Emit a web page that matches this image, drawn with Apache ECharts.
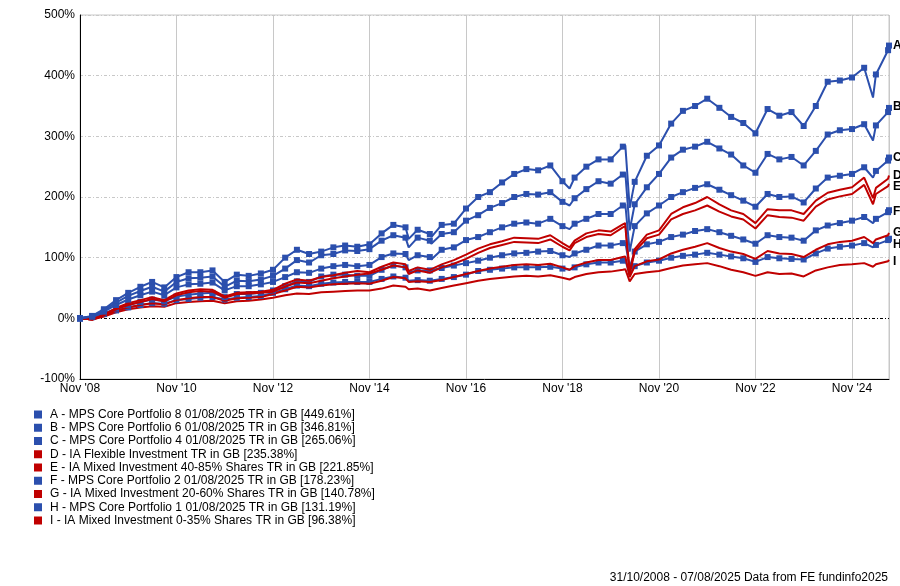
<!DOCTYPE html>
<html><head><meta charset="utf-8">
<script src="https://cdn.jsdelivr.net/npm/echarts@6/dist/echarts.min.js"></script>
<style>html,body{margin:0;padding:0;background:#fff}#c{width:900px;height:586px}</style>
</head><body><div id="c"></div><script>
// ---------- DATA ----------
const startDate = '2008-10-31';
const endDate = '2025-08-07';
const dates = [
 '2008-10-31','2009-01-31','2009-04-30','2009-07-31','2009-10-31','2010-01-31','2010-04-30','2010-07-31',
 '2010-10-31','2011-01-31','2011-04-30','2011-07-31','2011-10-31','2012-01-31','2012-04-30','2012-07-31',
 '2012-10-31','2013-01-31','2013-04-30','2013-07-31','2013-10-31','2014-01-31','2014-04-30','2014-07-31',
 '2014-10-31','2015-01-31','2015-04-30','2015-07-31','2015-08-24','2015-10-31','2016-01-31','2016-02-11',
 '2016-04-30','2016-07-31','2016-10-31','2017-01-31','2017-04-30','2017-07-31','2017-10-31','2018-01-31',
 '2018-04-30','2018-07-31','2018-10-31','2018-12-24','2019-01-31','2019-04-30','2019-07-31','2019-10-31',
 '2020-01-31','2020-02-19','2020-03-23','2020-04-30','2020-07-31','2020-10-31','2021-01-31','2021-04-30',
 '2021-07-31','2021-10-31','2022-01-31','2022-04-30','2022-07-31','2022-10-31','2023-01-31','2023-04-30',
 '2023-07-31','2023-10-31','2024-01-31','2024-04-30','2024-07-31','2024-10-31','2025-01-31','2025-04-08',
 '2025-04-30','2025-07-31','2025-08-07'
];
const unmarkedDates = ['2015-08-24','2016-02-11','2018-12-24','2020-02-19','2020-03-23','2025-04-08'];
const xTickLabels = ["Nov '08","Nov '10","Nov '12","Nov '14","Nov '16","Nov '18","Nov '20","Nov '22","Nov '24"];
const seriesNames = [
 'A - MPS Core Portfolio 8 01/08/2025 TR in GB [449.61%]',
 'B - MPS Core Portfolio 6 01/08/2025 TR in GB [346.81%]',
 'C - MPS Core Portfolio 4 01/08/2025 TR in GB [265.06%]',
 'D - IA Flexible Investment TR in GB [235.38%]',
 'E - IA Mixed Investment 40-85% Shares TR in GB [221.85%]',
 'F - MPS Core Portfolio 2 01/08/2025 TR in GB [178.23%]',
 'G - IA Mixed Investment 20-60% Shares TR in GB [140.78%]',
 'H - MPS Core Portfolio 1 01/08/2025 TR in GB [131.19%]',
 'I - IA Mixed Investment 0-35% Shares TR in GB [96.38%]'
];
const seriesLetters = ['A','B','C','D','E','F','G','H','I'];
const footerText = '31/10/2008 - 07/08/2025 Data from FE fundinfo2025';

const valuesA = [0,4,15,30,42,52,60,51,68,76,76,79,60,72,70,74,
 80,100,113,106,110,117,120,118,122,140,154,150,131,146,139,134,154,156,181,
 200,208,224,238,246,244,252,226,214,232,250,262,262,283,285,182,225,268,285,321,
 342,350,362,347,332,322,305,345,334,340,317,350,390,392,397,413,364,402,442,449.61];
const valuesB = [0,3,13,26,37,45,52,44,60,66,67,69,52,62,61,64,
 70,82,96,92,104,106,112,111,114,128,137,133,117,133,128,123,139,142,161,
 170,182,190,200,205,204,208,192,186,198,213,226,222,237,240,145,188,216,238,265,
 278,283,291,280,270,252,240,271,262,266,252,276,303,310,312,320,293,318,340,346.81];
const valuesC = [0,3,11,22,31,38,44,38,51,56,57,59,46,53,53,56,
 60,68,76,75,82,86,88,86,88,101,107,106,96,104,101,97,113,117,129,
 134,142,150,156,158,156,164,152,147,156,164,172,172,186,188,110,152,173,186,200,
 208,215,221,212,203,194,184,205,200,201,191,214,232,235,238,249,232,243,260,265.06];
const valuesD = [0,-2,6,17,25,30,35,30,41,46,48,47,36,42,43,44,
 47,57,64,62,68,71,75,78,76,85,92,89,78,84,80,77,89,96,105,
 115,122,127,133,132,131,137,124,117,128,140,145,143,155,157,76,114,138,145,172,
 183,190,200,188,178,172,157,180,178,178,172,194,207,212,216,232,198,215,230,235.38];
const valuesE = [0,-2,5,15,22,27,32,28,38,43,45,44,34,40,41,42,
 44,52,59,58,62,66,69,72,74,80,87,84,73,79,75,72,84,90,98,
 108,116,121,126,125,124,130,118,112,124,134,139,137,150,152,72,110,132,138,163,
 172,178,186,176,168,163,148,170,167,166,161,184,196,201,205,220,188,205,218,221.85];
const valuesF = [0,2,8,16,22,27,31,28,36,39,41,42,35,40,40,42,
 46,53,61,60,69,72,72,70,70,80,87,84,76,79,79,77,83,87,91,
 95,100,104,107,108,110,111,104,101,107,113,120,120,124,125,84,110,122,126,134,
 138,144,147,142,136,130,123,137,134,133,128,145,153,157,161,167,157,164,175,178.23];
const valuesG = [0,-2,4,12,18,22,25,23,30,33,35,35,29,33,34,35,
 40,46,52,51,54,56,57,58,57,62,68,66,60,61,60,58,63,68,73,
 78,82,85,88,89,88,90,84,80,86,92,96,96,101,102,68,86,94,97,107,
 113,118,124,116,110,106,98,111,107,106,101,113,122,126,128,134,124,130,137,140.78];
const valuesH = [0,2,7,13,18,22,25,24,30,32,34,35,31,34,35,37,
 42,48,54,53,57,59,60,60,60,65,69,67,62,63,62,61,65,68,72,
 78,80,82,84,84,84,85,82,80,84,89,92,92,95,96,72,86,92,95,100,
 103,105,108,105,102,99,93,101,99,98,97,107,115,118,120,124,117,121,129,131.19];
const valuesI = [0,-2,3,10,15,18,20,19,25,27,28,29,25,28,29,31,
 34,38,41,40,43,44,45,46,46,49,54,52,48,49,46,45,50,54,58,
 62,65,67,69,70,69,71,67,64,68,73,76,77,80,81,61,73,76,78,83,
 87,89,91,86,80,76,70,76,73,74,69,79,84,88,89,91,85,89,94,96.38];

// ---------- STYLE ----------
const BLUE = '#2b4fad', RED = '#c00000';
const FONT = '"Liberation Sans", Arial, Helvetica, sans-serif';
const seriesValues = [valuesA,valuesB,valuesC,valuesD,valuesE,valuesF,valuesG,valuesH,valuesI];
const seriesColors = [BLUE,BLUE,BLUE,RED,RED,BLUE,RED,BLUE,RED];
const labelNudge = [0,-1,0,0,3,1.5,0,6,2];

const DAY = 86400000;
function yearsSince(d){ return (Date.parse(d) - Date.parse(startDate)) / (365.25*DAY); }
const xs = dates.map(yearsSince);

const series = seriesValues.map((vals, si) => {
  const isBlue = seriesColors[si] === BLUE;
  const s = {
    name: seriesNames[si],
    type: 'line',
    data: vals.map((v,i) => [xs[i], v]),
    color: seriesColors[si],
    lineStyle: {width: 2, color: seriesColors[si]},
    itemStyle: {color: seriesColors[si]},
    showSymbol: isBlue,
    symbol: isBlue ? (val, params) => (unmarkedDates.indexOf(dates[params.dataIndex]) >= 0 ? 'none' : 'rect') : 'none',
    symbolSize: 6,
    z: 2 + (9 - si) * 0.01,
    animation: false,
    silent: true,
    endLabel: {
      show: true,
      formatter: () => seriesLetters[si],
      color: '#000',
      fontWeight: 'bold',
      fontSize: 12,
      fontFamily: FONT,
      distance: 4,
      offset: [0, labelNudge[si]]
    }
  };
  if (si === 0) {
    s.markLine = {
      silent: true, symbol: 'none', animation: false,
      label: {show: false},
      lineStyle: {color: '#000', width: 1, type: [3,2,1,2]},
      data: [{yAxis: 0}],
      z: 1
    };
  }
  return s;
});

const chart = echarts.init(document.getElementById('c'), null, {renderer: 'canvas'});
chart.setOption({
  backgroundColor: '#fff',
  animation: false,
  grid: {left: 80, right: 11, top: 15, bottom: 207, show: true, borderColor: '#c8c8c8', borderWidth: 1, backgroundColor: 'transparent'},
  xAxis: {
    type: 'value', min: 0, max: yearsSince(endDate), interval: 2,
    axisLine: {show: true, onZero: false, lineStyle: {color: '#000', width: 1}},
    axisTick: {show: false},
    axisLabel: {
      color: '#000', fontSize: 12, fontFamily: FONT, margin: 4, showMaxLabel: false,
      formatter: v => { const k = Math.round(v / 2); return Math.abs(v - 2 * k) < 1e-6 ? (xTickLabels[k] || '') : ''; }
    },
    splitLine: {show: true, lineStyle: {color: '#c8c8c8', width: 1, type: 'solid'}}
  },
  yAxis: {
    type: 'value', min: -100, max: 500, interval: 100,
    axisLine: {show: true, lineStyle: {color: '#000', width: 1}},
    axisTick: {show: false},
    axisLabel: {color: '#000', fontSize: 12, fontFamily: FONT, margin: 5, formatter: '{value}%'},
    splitLine: {show: true, lineStyle: {color: '#c8c8c8', width: 1, type: [3,2,1,2]}}
  },
  legend: {
    orient: 'vertical', left: 34, top: 408, padding: 0,
    itemWidth: 8, itemHeight: 8, itemGap: 0.25, icon: 'rect',
    selectedMode: false,
    textStyle: {color: '#000', fontSize: 12, fontFamily: FONT, lineHeight: 13, padding: [0,0,0,3]},
    data: seriesNames
  },
  graphic: [{
    type: 'text', right: 12, bottom: 2,
    style: {text: footerText, fill: '#000', font: '12px ' + FONT}
  }],
  series: series
});
</script></body></html>
